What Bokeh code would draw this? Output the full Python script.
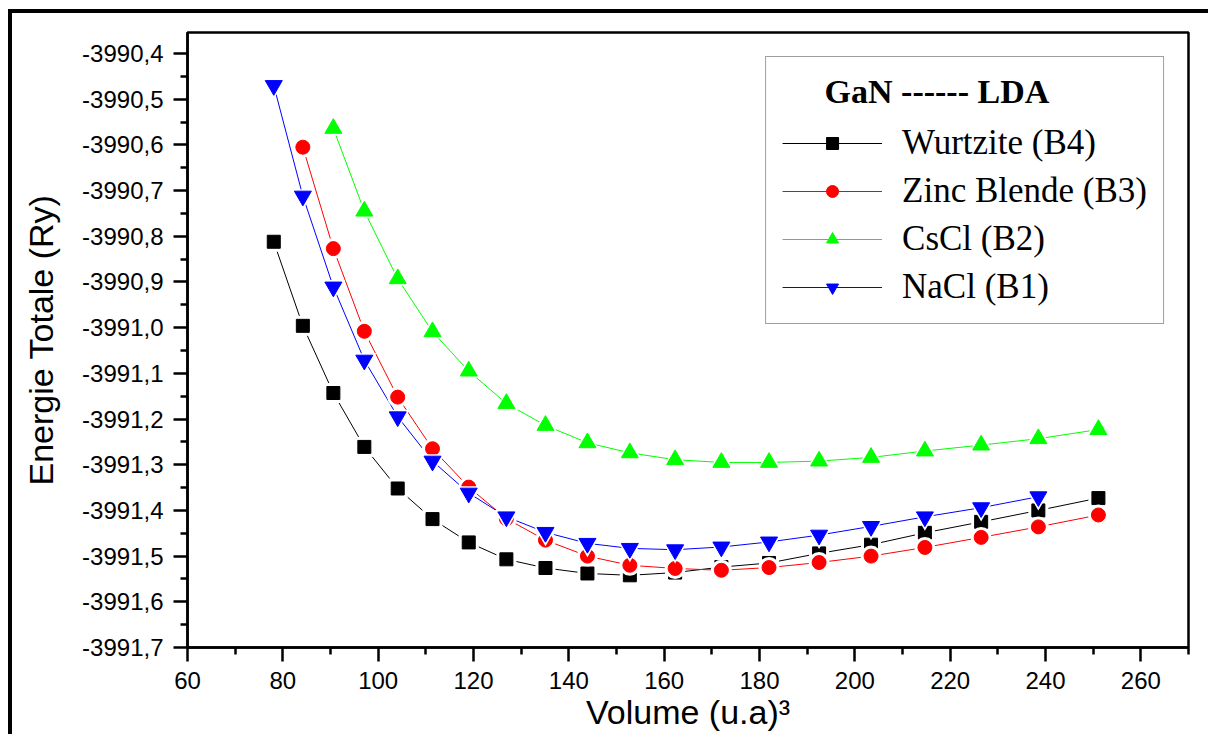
from bokeh.plotting import figure
from bokeh.models import Range1d, FixedTicker, CustomJSTickFormatter, Legend, LegendItem
from bokeh.embed import file_html
from bokeh.resources import INLINE

# ---- data ----
vol_wurtzite = [78.1, 84.2, 90.6, 97.1, 104.1, 111.4, 119.0, 126.9, 135.1, 143.9,
                152.8, 162.3, 172.0, 182.0, 192.5, 203.4, 214.7, 226.5, 238.5, 251.1]
e_wurtzite = [-3990.812, -3990.996, -3991.143, -3991.261, -3991.352, -3991.419, -3991.470,
              -3991.507, -3991.526, -3991.538, -3991.542, -3991.536, -3991.524, -3991.515,
              -3991.494, -3991.475, -3991.449, -3991.425, -3991.400, -3991.373]

vol_zinc = [84.2, 90.6, 97.1, 104.1, 111.4, 119.0, 126.9, 135.1, 143.9,
            152.8, 162.3, 172.0, 182.0, 192.5, 203.4, 214.7, 226.5, 238.5, 251.1]
e_zinc = [-3990.605, -3990.827, -3991.008, -3991.152, -3991.265, -3991.349, -3991.418,
          -3991.465, -3991.500, -3991.520, -3991.527, -3991.531, -3991.525, -3991.514,
          -3991.500, -3991.481, -3991.459, -3991.436, -3991.410]

vol_cscl = [90.6, 97.1, 104.1, 111.4, 119.0, 126.9, 135.1, 143.9,
            152.8, 162.3, 172.0, 182.0, 192.5, 203.4, 214.7, 226.5, 238.5, 251.1]
e_cscl = [-3990.564, -3990.745, -3990.893, -3991.009, -3991.095, -3991.166, -3991.214,
          -3991.252, -3991.274, -3991.289, -3991.295, -3991.295, -3991.292, -3991.284,
          -3991.270, -3991.257, -3991.243, -3991.223]

vol_nacl = [78.1, 84.2, 90.6, 97.1, 104.1, 111.4, 119.0, 126.9, 135.1, 143.9,
            152.8, 162.3, 172.0, 182.0, 192.5, 203.4, 214.7, 226.5, 238.5]
e_nacl = [-3990.470, -3990.712, -3990.911, -3991.071, -3991.195, -3991.292, -3991.362,
          -3991.414, -3991.448, -3991.472, -3991.483, -3991.486, -3991.480, -3991.469,
          -3991.454, -3991.435, -3991.414, -3991.394, -3991.370]

series_labels = ["Wurtzite (B4)", "Zinc Blende (B3)", "CsCl (B2)", "NaCl (B1)"]
series_colors = ["#000000", "#FF0000", "#00FF00", "#0000FF"]
series_markers = ["square", "circle", "triangle", "inverted_triangle"]
series_sizes = [13, 14, 17, 17]

x_ticks = [60, 80, 100, 120, 140, 160, 180, 200, 220, 240, 260]
x_minor = [70, 90, 110, 130, 150, 170, 190, 210, 230, 250, 270]
y_ticks = [-3991.7, -3991.6, -3991.5, -3991.4, -3991.3, -3991.2, -3991.1, -3991.0,
           -3990.9, -3990.8, -3990.7, -3990.6, -3990.5, -3990.4]
y_minor = [-3991.65, -3991.55, -3991.45, -3991.35, -3991.25, -3991.15, -3991.05,
           -3990.95, -3990.85, -3990.75, -3990.65, -3990.55, -3990.45]

legend_title = "GaN ------ LDA"
x_label = "Volume (u.a)\u00b3"
y_label = "Energie Totale (Ry)"

# ---- figure ----
p = figure(width=1200, height=725, output_backend="svg", toolbar_location=None,
           x_range=Range1d(60, 270), y_range=Range1d(-3991.7, -3990.354),
           min_border_left=175, min_border_right=24, min_border_top=19, min_border_bottom=91)
p.styles = {"margin-left": "8px", "margin-top": "9px",
            "border-left": "4px solid black", "border-top": "4px solid black"}
p.background_fill_color = "white"
p.border_fill_color = "white"
p.outline_line_color = "black"
p.outline_line_width = 2.5
p.xgrid.visible = False
p.ygrid.visible = False

for ax in (p.xaxis[0], p.yaxis[0]):
    ax.axis_line_width = 2.5
    ax.major_tick_line_width = 2.5
    ax.minor_tick_line_width = 2.5
    ax.major_tick_in = 0
    ax.major_tick_out = 14
    ax.minor_tick_in = 0
    ax.minor_tick_out = 7
    ax.major_label_text_font = "Liberation Sans"
    ax.major_label_text_font_size = "24px"
    ax.major_label_text_color = "black"
    ax.axis_label_text_font = "Liberation Sans"
    ax.axis_label_text_font_size = "34px"
    ax.axis_label_text_font_style = "normal"
    ax.axis_label_text_color = "black"

p.xaxis.ticker = FixedTicker(ticks=x_ticks, minor_ticks=x_minor)
p.yaxis.ticker = FixedTicker(ticks=y_ticks, minor_ticks=y_minor)
p.yaxis.formatter = CustomJSTickFormatter(code="return tick.toFixed(1).replace('.', ',');")
p.xaxis.axis_label = x_label
p.yaxis.axis_label = y_label
p.xaxis.major_label_standoff = 10
p.yaxis.major_label_standoff = 10
p.xaxis.axis_label_standoff = 1
p.yaxis.axis_label_standoff = 19

all_x = [vol_wurtzite, vol_zinc, vol_cscl, vol_nacl]
all_y = [e_wurtzite, e_zinc, e_cscl, e_nacl]

lines = []
for xs, ys, c in zip(all_x, all_y, series_colors):
    lines.append(p.line(xs, ys, line_color=c, line_width=1))

items = []
for xs, ys, c, m, s, lab, ln in zip(all_x, all_y, series_colors, series_markers,
                                     series_sizes, series_labels, lines):
    halo = p.scatter(xs, ys, marker=m, size=s + 7, fill_color="white", line_color=None)
    mk = p.scatter(xs, ys, marker=m, size=s, fill_color=c, line_color=c, line_width=1)
    items.append(LegendItem(label=lab, renderers=[ln, mk]))

legend = Legend(items=items, location="top_right", margin=24, padding=16,
                title="\u00a0" * 5 + legend_title,
                title_text_font="Liberation Serif", title_text_font_size="34px",
                title_text_font_style="bold", title_text_color="black", title_standoff=12,
                label_text_font="Liberation Serif", label_text_font_size="35px",
                label_text_color="black",
                glyph_width=100, glyph_height=30, label_height=40, spacing=8,
                label_standoff=20,
                border_line_color="#404040", border_line_width=1.5,
                background_fill_color="white", background_fill_alpha=1.0)
p.add_layout(legend)

open("out.html", "w").write(file_html(p, INLINE))
